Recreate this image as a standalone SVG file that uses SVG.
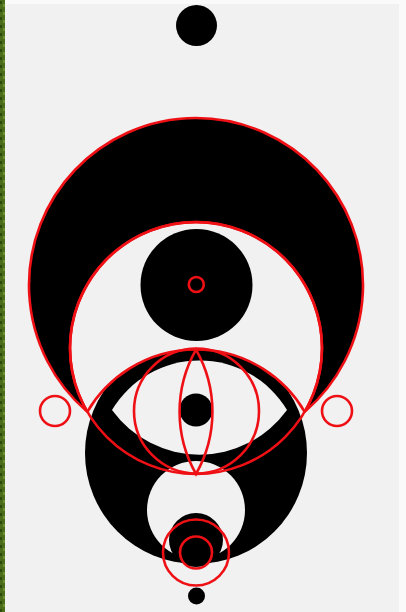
<svg xmlns="http://www.w3.org/2000/svg" width="406" height="612" viewBox="0 0 406 612">
<defs>
<pattern id="grass" width="5" height="8" patternUnits="userSpaceOnUse">
<rect width="5" height="8" fill="#4a6e1c"/>
<rect x="0" y="1" width="2" height="3" fill="#2c4a0e"/>
<rect x="3" y="4" width="2" height="3" fill="#6f8f2a"/>
</pattern>
<clipPath id="eyeclip"><circle cx="196" cy="475.6" r="126"/></clipPath>
</defs>
<style>
.blk{fill:#000}
.bg{fill:#f1f1f1}
.red{fill:none;stroke:#ee1015;stroke-width:2.6}
</style>
<rect x="0" y="0" width="406" height="612" fill="#fafafa"/>
<rect x="5" y="4" width="394" height="608" fill="#f1f1f1"/>
<rect x="0" y="0" width="5" height="612" fill="url(#grass)"/>
<g id="top-dot"><circle class="blk" cx="196.5" cy="25.5" r="20.5"/></g>
<g id="crescent"><path class="blk" d="M87.3,411.8 A167,167 0 1 1 304.7,411.8 A126,126 0 1 0 87.3,411.8 Z" stroke="#ee1015" stroke-width="2.6"/></g>
<g id="head"><circle class="blk" cx="196.5" cy="285" r="56"/><circle class="red" cx="196.3" cy="284.5" r="7.5"/></g>
<g id="eye-body"><circle class="blk" cx="196" cy="453" r="111" clip-path="url(#eyeclip)"/>
<path class="bg" d="M112,410 A102,102 0 0 1 287,410 A108,108 0 0 1 112,410 Z"/>
<circle class="blk" cx="196" cy="410" r="16.5"/></g>
<g id="lower"><circle class="bg" cx="196" cy="510" r="49"/><circle class="blk" cx="196" cy="540" r="27"/></g>
<g id="bottom-dot"><circle class="blk" cx="196.5" cy="596" r="8.5"/></g>
<g id="construction">
<circle class="red" cx="196" cy="348" r="126"/>
<path class="red" d="M87.3,411.8 A126,126 0 0 1 304.7,411.8"/>
<circle class="red" cx="196.5" cy="411" r="62.5"/>
<path class="red" d="M196,349.6 A126,126 0 0 1 196,474 A126,126 0 0 1 196,349.6 Z"/>
<circle class="red" cx="55" cy="411" r="15"/>
<circle class="red" cx="337" cy="411" r="15"/>
<circle class="red" cx="196" cy="552.5" r="33"/>
<circle class="red" cx="196" cy="552.5" r="16"/>
</g>
</svg>
